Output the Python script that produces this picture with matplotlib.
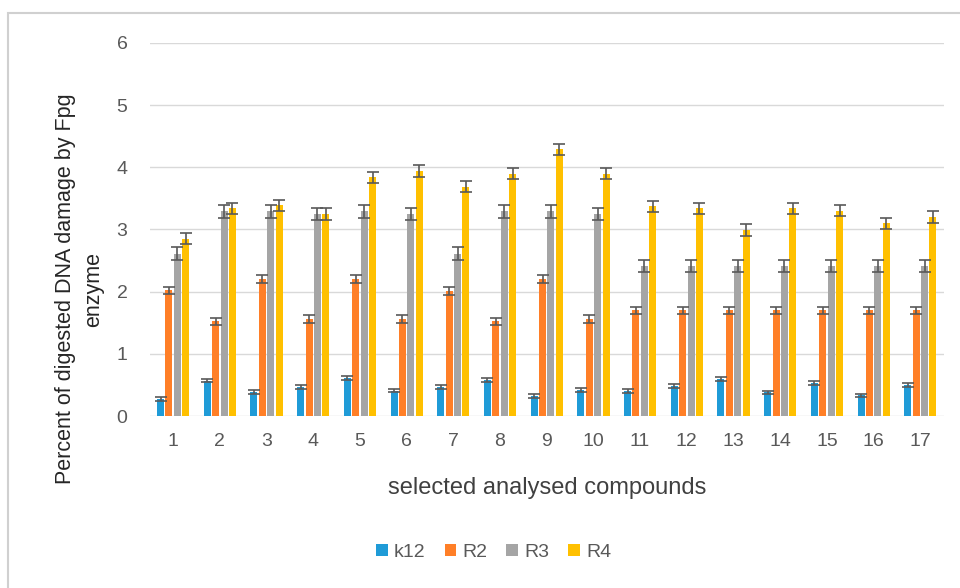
import numpy as np
import matplotlib
matplotlib.use("Agg")
import matplotlib.pyplot as plt
from matplotlib.patches import Rectangle

plt.rcParams['font.family'] = ['Liberation Sans', 'DejaVu Sans']

# Datos
compuestos = [str(i) for i in range(1, 18)]
series = ['k12', 'R2', 'R3', 'R4']
k12 = [0.27, 0.57, 0.39, 0.47, 0.61, 0.41, 0.47, 0.58, 0.32, 0.42, 0.40, 0.48, 0.59, 0.38, 0.53, 0.33, 0.50]
R2 = [2.02, 1.52, 2.20, 1.56, 2.20, 1.56, 2.01, 1.52, 2.20, 1.56, 1.70, 1.70, 1.70, 1.70, 1.70, 1.70, 1.70]
R3 = [2.61, 3.29, 3.29, 3.25, 3.29, 3.25, 2.61, 3.29, 3.29, 3.25, 2.41, 2.41, 2.41, 2.41, 2.41, 2.41, 2.41]
R4 = [2.85, 3.34, 3.39, 3.25, 3.84, 3.94, 3.69, 3.90, 4.29, 3.90, 3.37, 3.34, 2.99, 3.34, 3.30, 3.10, 3.20]
errores = [0.03, 0.06, 0.10, 0.09]
colores = ['#1F9BD7', '#FF7F27', '#A5A5A5', '#FFC000']

fig = plt.figure(figsize=(9.6, 5.88), dpi=100)
# marco exterior
fig.patches.append(Rectangle((0.008, -0.05), 1.2, 1.028, transform=fig.transFigure,
                             fill=False, edgecolor='#D0D0D0', lw=1.5))
ax = fig.add_axes([0.156, 0.2925, 0.827, 0.6345])

x = np.arange(len(compuestos))
ancho = 0.15
paso = 0.18
for j, (nombre, vals) in enumerate(zip(series, [k12, R2, R3, R4])):
    pos = x + (j - 1.5) * paso
    ax.bar(pos, vals, width=ancho, color=colores[j], label=nombre, zorder=3)
    ax.errorbar(pos, vals, yerr=errores[j], fmt='none', ecolor='#595959',
                elinewidth=1.2, capsize=4.5, capthick=1.2, zorder=4)

ax.set_xlim(-0.5, len(compuestos) - 0.5)
ax.set_ylim(0, 6)
ax.set_yticks(range(0, 7))
ax.set_xticks(x)
ax.set_xticklabels(compuestos)
ax.grid(axis='y', color='#D9D9D9', lw=1, zorder=0)
for s in ax.spines.values():
    s.set_visible(False)
ax.tick_params(length=0, labelsize=14, colors='#595959')
ax.tick_params(axis='x', pad=12)
ax.tick_params(axis='y', pad=16)

ax.set_ylabel('Percent of digested DNA damage by Fpg\nenzyme', fontsize=15.5,
              color='#262626', linespacing=1.45)
ax.yaxis.set_label_coords(-0.057, 0.34)
ax.set_xlabel('selected analysed compounds', fontsize=17, color='#404040')
ax.xaxis.set_label_coords(0.5, -0.163)

ax.legend(loc='center', bbox_to_anchor=(0.433, -0.365), ncol=4, frameon=False,
          fontsize=14, handlelength=0.6, handleheight=0.6, handletextpad=0.3,
          columnspacing=1.0, labelcolor='#595959')

fig.savefig('out.png', dpi=100)
